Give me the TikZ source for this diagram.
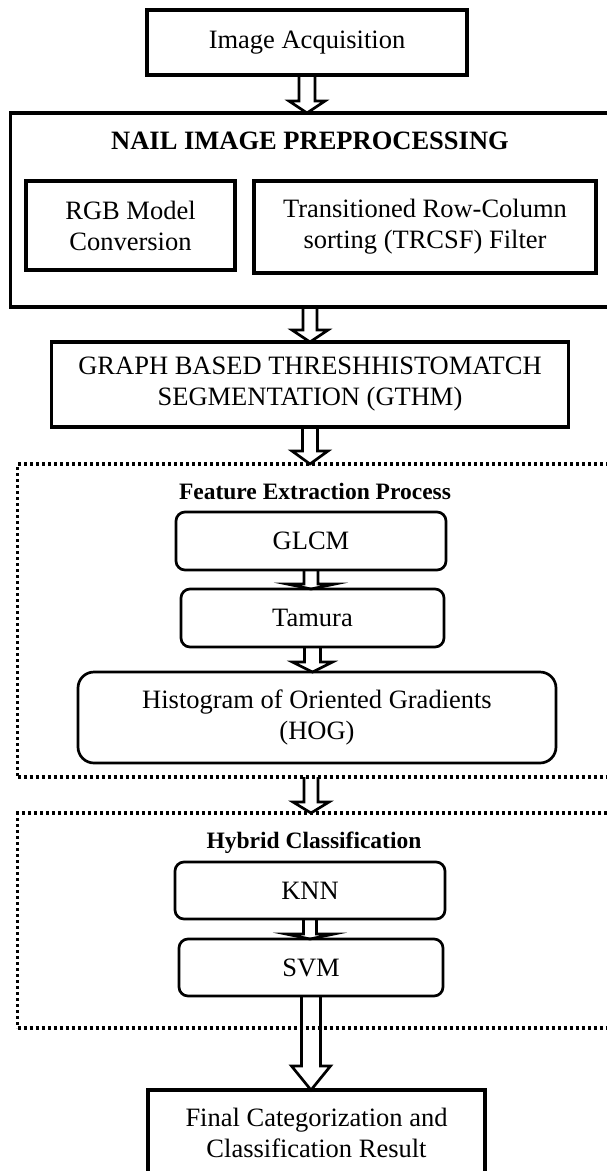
\documentclass[tikz,border=0pt]{standalone}
\usepackage{fontspec}
\setmainfont{Liberation Serif}
\usetikzlibrary{calc}

\newcommand{\blockarrow}[5]{%
    \draw[blockline] let \p1=(#1), \p2=(#2) in
        (\x1-#3,\y1) -- (\x1-#3,\y2+#5) -- (\x1-#4,\y2+#5) -- (\x1,\y2)
        -- (\x1+#4,\y2+#5) -- (\x1+#3,\y2+#5) -- (\x1+#3,\y1);}

\begin{document}
\begin{tikzpicture}[x=1pt,y=-1pt,
        every node/.style={font=\fontsize{26.5}{31}\selectfont, inner sep=0pt, outer sep=0pt, align=center},
        plainbox/.style={draw, line width=3.3pt},
        roundbox/.style={draw, line width=2.7pt, rounded corners=9pt},
        dotbox/.style={draw, line width=3.2pt, dash pattern=on 3pt off 3pt, anchor=north west},
        titletext/.style={font=\bfseries\fontsize{26.5}{31}\selectfont},
        subtitle/.style={font=\bfseries\fontsize{23.5}{28}\selectfont},
        blockline/.style={line width=2.7pt, line join=miter}]
    \useasboundingbox (0,0) rectangle (607,1171);
    \clip (0,0) rectangle (607,1171);

    \node[plainbox, minimum width=320pt, minimum height=65pt] (acq) at (307,42.5) {Image Acquisition};

    \node[plainbox, anchor=north west, minimum width=620pt, minimum height=194pt] (prep) at (10.5,113) {};
    \node[titletext] (preptitle) at (310,141) {NAIL IMAGE PREPROCESSING};
    \node[plainbox, minimum width=209pt, minimum height=89pt] (rgb) at (130.5,225.5) {RGB Model\\Conversion};
    \node[plainbox, minimum width=342pt, minimum height=92pt] (trcsf) at (425,227) {Transitioned Row-Column\\sorting (TRCSF) Filter};

    \node[plainbox, minimum width=517pt, minimum height=85pt] (gthm) at (310,384.5) {GRAPH BASED THRESHHISTOMATCH\\SEGMENTATION (GTHM)};

    \node[dotbox, minimum width=610pt, minimum height=313pt] (fep) at (17.5,464) {};
    \node[subtitle] (feptitle) at (315,491) {Feature Extraction Process};
    \node[roundbox, minimum width=270pt, minimum height=58pt] (glcm) at (311,541) {GLCM};
    \node[roundbox, minimum width=263pt, minimum height=58pt] (tamura) at (312.5,618) {Tamura};
    \node[roundbox, rounded corners=16pt, minimum width=478pt, minimum height=91pt] (hog) at (317,717.5) {Histogram of Oriented Gradients\\(HOG)};

    \node[dotbox, minimum width=610pt, minimum height=215pt] (hyb) at (17.5,813) {};
    \node[subtitle] (hybtitle) at (314,843) {Hybrid Classification};
    \node[roundbox, minimum width=270pt, minimum height=57pt] (knn) at (310,890.5) {KNN};
    \node[roundbox, minimum width=264pt, minimum height=57pt] (svm) at (311,967.5) {SVM};

    \node[plainbox, anchor=north, minimum width=337pt, minimum height=86pt] (final) at (316.5,1090) {Final Categorization and\\Classification Result};

    \blockarrow{acq.south}{acq.south |- prep.north}{8pt}{18pt}{12pt}
    \blockarrow{gthm.north |- prep.south}{gthm.north}{7pt}{18pt}{12pt}
    \blockarrow{gthm.south}{gthm.south |- fep.north}{7.5pt}{18pt}{13pt}
    \blockarrow{glcm.south}{tamura.north}{7pt}{24pt}{5pt}
    \blockarrow{tamura.south}{tamura.south |- hog.north}{8pt}{20pt}{10pt}
    \blockarrow{glcm.south |- fep.south}{glcm.south |- hyb.north}{7pt}{18pt}{11pt}
    \blockarrow{knn.south}{svm.north}{6.5pt}{24pt}{5pt}
    \blockarrow{svm.south}{svm.south |- final.north}{9.5pt}{19.5pt}{24pt}
\end{tikzpicture}
\end{document}
